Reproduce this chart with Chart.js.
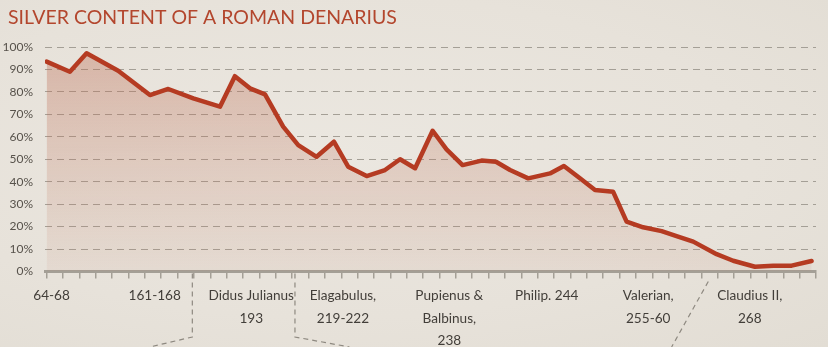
<!DOCTYPE html>
<html>
<head>
<meta charset="utf-8">
<script src="https://cdn.jsdelivr.net/npm/chart.js@4.4.1/dist/chart.umd.min.js"></script>
<style>
  html, body { margin: 0; padding: 0; }
  body {
    width: 828px; height: 347px; overflow: hidden;
    background: radial-gradient(ellipse at 40% 45%, #ebe7e0 0%, #e7e2da 60%, #e2ddd4 100%);
  }
  #wrap { position: relative; width: 828px; height: 347px; }
</style>
</head>
<body>
<div id="wrap"><canvas id="myChart" width="828" height="347"></canvas></div>
<script>
// x = position along the axis (in tick units), y = silver %
let silverX = [0, 1.42, 2.44, 4.37, 6.31, 7.43, 8.96, 10.59, 11.5, 12.42, 13.34, 14.45, 15.37, 16.49,
  17.55, 18.42, 19.55, 20.67, 21.59, 22.51, 23.58, 24.43, 25.41, 26.57, 27.45, 28.31, 29.42, 30.75,
  31.6, 32.58, 33.5, 34.61, 35.43, 36.44, 37.57, 38.48, 39.5, 40.93, 41.94, 43.27, 44.39, 45.51, 46.73];
let silverPct = [93.5, 89, 97.2, 89.4, 78.6, 81.3, 77.1, 73.4, 87, 81.6, 78.9, 64.5, 56.3, 51.1,
  57.8, 46.7, 42.5, 45.2, 50, 46, 62.7, 54.4, 47.4, 49.4, 48.9, 45.2, 41.5, 43.7,
  47, 41.5, 36.3, 35.5, 22.2, 19.7, 18, 15.8, 13.3, 7.7, 4.8, 2.1, 2.6, 2.6, 4.7];

// emperor labels under the axis
let labelPos = [0.3, 6.6, 12.5, 18.1, 24.6, 30.55, 36.75, 42.95];
let xLabels = [
  ['64-68'],
  ['161-168'],
  ['Didus Julianus', '193'],
  ['Elagabulus,', '219-222'],
  ['Pupienus &', 'Balbinus,', '238'],
  ['Philip. 244'],
  ['Valerian,', '255-60'],
  ['Claudius II,', '268']
];
let tickCount = 48;   // small tick marks on the axis
let chartTitle = 'SILVER CONTENT OF A ROMAN DENARIUS';

let points = silverX.map((x, i) => ({ x: x, y: silverPct[i] }));

const grey = '#a49f96';

// title in the top left corner
const titleText = {
  id: 'titleText',
  afterDraw(chart) {
    const c = chart.ctx;
    c.save();
    c.fillStyle = '#b3462d';
    c.font = 'normal 19.5px Lato';
    c.textBaseline = 'alphabetic';
    c.textAlign = 'left';
    c.fillText(chartTitle, 8, 24);
    c.restore();
  }
};

// dashed callout lines below the axis
const callouts = {
  id: 'callouts',
  afterDraw(chart) {
    const c = chart.ctx, xs = chart.scales.x, b = chart.chartArea.bottom, H = chart.height;
    const px = v => xs.getPixelForValue(v);
    c.save();
    c.strokeStyle = '#8e8980';
    c.lineWidth = 1.2;
    c.setLineDash([5, 4]);
    c.beginPath();
    c.moveTo(px(8.9), b + 2); c.lineTo(px(8.9), H - 10); c.lineTo(px(6.3), H);
    c.moveTo(px(15.17), b + 2); c.lineTo(px(15.17), H - 10); c.lineTo(px(18.5), H);
    c.moveTo(px(40.42), b + 10); c.lineTo(px(38.18), H);
    c.stroke();
    c.restore();
  }
};

let ctx = document.getElementById('myChart');
new Chart(ctx, {
  type: 'line',
  data: {
    datasets: [{
      data: points,
      borderColor: '#b53b22',
      borderWidth: 4.5,
      borderJoinStyle: 'round',
      borderCapStyle: 'round',
      pointRadius: 0,
      tension: 0,
      fill: 'origin',
      backgroundColor: function(context) {
        const area = context.chart.chartArea;
        if (!area) return 'rgba(190,110,85,0.3)';
        const g = context.chart.ctx.createLinearGradient(0, area.top, 0, area.bottom);
        g.addColorStop(0, 'rgba(188,105,80,0.38)');
        g.addColorStop(1, 'rgba(190,120,95,0.08)');
        return g;
      }
    }]
  },
  plugins: [callouts, titleText],
  options: {
    responsive: false,
    animation: false,
    layout: { padding: { left: 0, right: 12, top: 47, bottom: 0 } },
    plugins: {
      legend: { display: false },
      tooltip: { enabled: false },
      title: { display: false }
    },
    scales: {
      x: {
        type: 'linear',
        position: 'bottom',
        min: -0.1,
        max: 47,
        afterBuildTicks: s => { s.ticks = Array.from({ length: tickCount }, (_, i) => ({ value: i })); },
        ticks: { display: false },
        grid: { drawOnChartArea: false, drawTicks: true, tickLength: 7, color: grey, lineWidth: 1.5 },
        border: { display: true, color: grey, width: 3 }
      },
      xl: {
        type: 'linear',
        position: 'bottom',
        min: -0.1,
        max: 47,
        afterBuildTicks: s => { s.ticks = labelPos.map(v => ({ value: v })); },
        afterFit: s => { s.height = 68.5; },
        ticks: {
          autoSkip: false,
          maxRotation: 0,
          padding: -2,
          color: '#423e39',
          font: { family: 'Lato', size: 13.6, lineHeight: 1.66 },
          callback: (v, i) => xLabels[i]
        },
        grid: { display: false },
        border: { display: false }
      },
      y: {
        min: 0,
        max: 100,
        afterFit: s => { s.width = 45; },
        ticks: {
          stepSize: 10,
          padding: 12,
          color: '#57524b',
          font: { family: 'Lato', size: 12 },
          callback: v => v + '%'
        },
        grid: { color: grey, lineWidth: 1, drawTicks: false },
        border: { display: false, dash: [7, 5] }
      }
    }
  }
});
</script>
</body>
</html>
